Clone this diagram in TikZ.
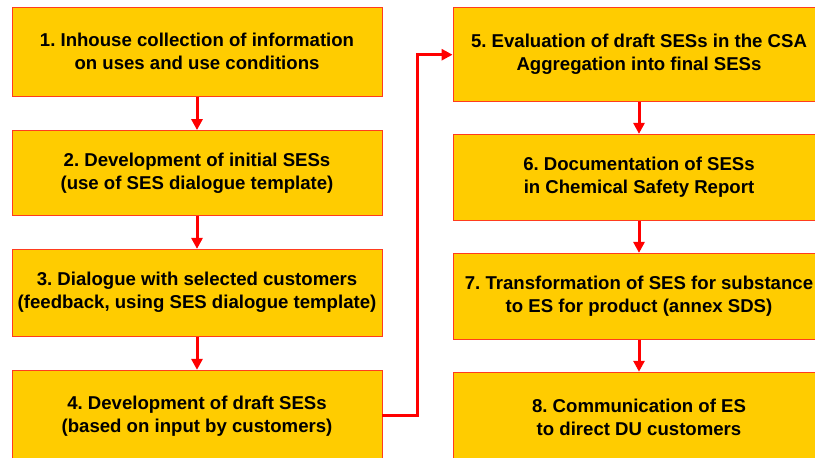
\documentclass[tikz,border=0pt]{standalone}
\usepackage{fontspec}
\setmainfont{Liberation Sans}
\usetikzlibrary{arrows.meta}
\definecolor{boxfill}{HTML}{FFCC00}
\definecolor{boxedge}{HTML}{FF3C1E}
\definecolor{arrowred}{HTML}{FF0000}
\frenchspacing
\begin{document}
\begin{tikzpicture}[x=1pt,y=-1pt,
  stepbox/.style={draw=boxedge, line width=0.9pt, fill=boxfill, inner sep=0pt,
    align=center, font=\fontsize{18.6}{23}\selectfont\bfseries, minimum width=370pt},
  rstepbox/.style={stepbox, minimum width=372pt},
  flow/.style={draw=arrowred, line width=3pt, -{Triangle[length=11pt,width=11pt]}}]
\useasboundingbox (0,0) rectangle (815,458);
\node[stepbox, minimum height=89pt] (b1) at (197,51.7) {1. Inhouse collection of information\\on uses and use conditions};
\node[stepbox, minimum height=84.5pt] (b2) at (197,172.8) {2. Development of initial SESs\\(use of SES dialogue template)};
\node[stepbox, minimum height=86.7pt] (b3) at (197,292.7) {3. Dialogue with selected customers\\(feedback, using SES dialogue template)};
\node[stepbox, minimum height=92pt] (b4) at (197,416.3) {4. Development of draft SESs\\(based on input by customers)};
\node[rstepbox, minimum height=94.7pt] (b5) at (639,54.3) {5. Evaluation of draft SESs in the CSA\\Aggregation into final SESs};
\node[rstepbox, minimum height=86.3pt] (b6) at (639,177.5) {6. Documentation of SESs\\in Chemical Safety Report};
\node[rstepbox, minimum height=85.7pt] (b7) at (639,296.2) {7. Transformation of SES for substance\\to ES for product (annex SDS)};
\node[rstepbox, minimum height=90pt] (b8) at (639,417.2) {8. Communication of ES\\to direct DU customers};
\draw[flow] (b1) -- (b2);
\draw[flow] (b2) -- (b3);
\draw[flow] (b3) -- (b4);
\draw[flow] (b5) -- (b6);
\draw[flow] (b6) -- (b7);
\draw[flow] (b7) -- (b8);
\coordinate (up) at (417.7,54.7);
\draw[flow] (b4.east |- 0,415) -| (up) -- (up -| b5.west);
\end{tikzpicture}
\end{document}
